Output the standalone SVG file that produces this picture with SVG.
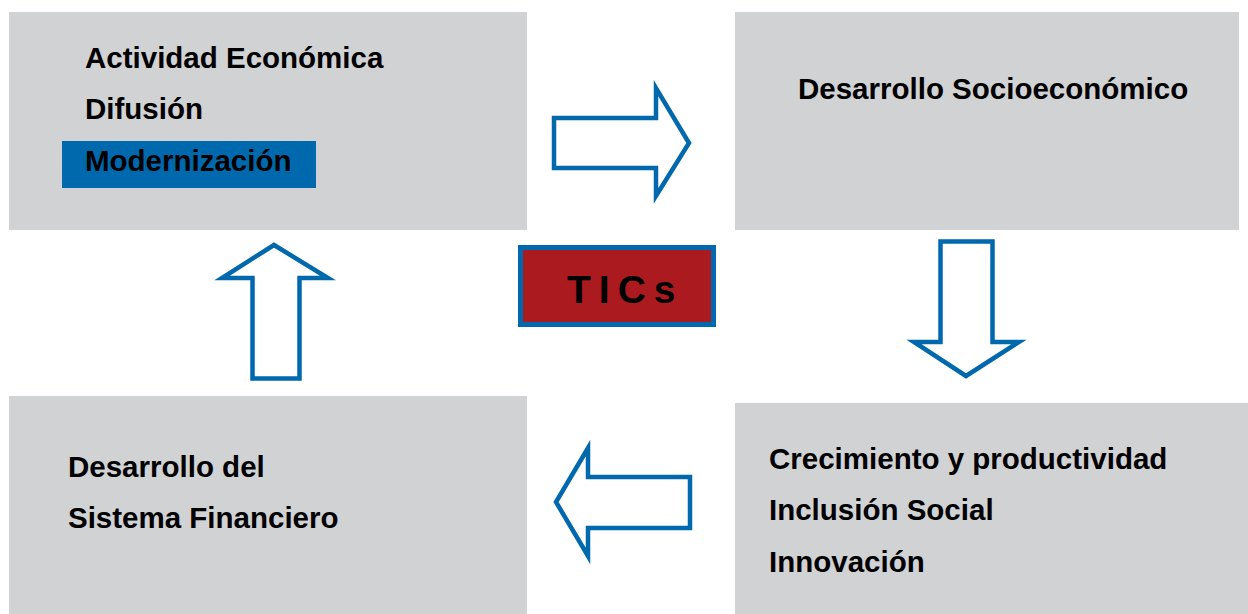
<svg xmlns="http://www.w3.org/2000/svg" width="1248" height="614" viewBox="0 0 1248 614">
<style>
.box{fill:#D1D2D4}
.t{font-family:"Liberation Sans",Arial,sans-serif;font-weight:bold;font-size:29.5px;fill:#000}
.arrow{fill:#fff;stroke:#0068AD;stroke-width:4.5;stroke-linejoin:miter}
</style>
<rect width="1248" height="614" fill="#fff"/>
<g id="node-actividad">
<rect class="box" x="9" y="12" width="518" height="218"/>
<rect x="62" y="141" width="254" height="47" fill="#0068AD"/>
<text class="t" x="85" y="68">Actividad Económica</text>
<text class="t" x="85" y="119">Difusión</text>
<text class="t" x="85" y="171">Modernización</text>
</g>
<g id="node-socio">
<rect class="box" x="735" y="12" width="504" height="218"/>
<text class="t" x="798" y="99">Desarrollo Socioeconómico</text>
</g>
<g id="node-crecimiento">
<rect class="box" x="735" y="403" width="513" height="211"/>
<text class="t" x="769" y="469">Crecimiento y productividad</text>
<text class="t" x="769" y="520">Inclusión Social</text>
<text class="t" x="769" y="572">Innovación</text>
</g>
<g id="node-financiero">
<rect class="box" x="9" y="396" width="518" height="218"/>
<text class="t" x="68" y="477">Desarrollo del</text>
<text class="t" x="68" y="528">Sistema Financiero</text>
</g>
<g id="node-tics">
<rect x="520.5" y="247.5" width="193" height="77" fill="#AA1A1F" stroke="#0068AD" stroke-width="5"/>
<text x="567" y="303" font-family="'Liberation Sans',Arial,sans-serif" font-weight="bold" font-size="39" letter-spacing="8" fill="#000">TICs</text>
</g>
<g id="connectors">
<polygon class="arrow" points="554,118 656,118 656,88 689,143 656,196 656,168 554,168"/>
<polygon class="arrow" points="940.5,241.5 992.5,241.5 992.5,342 1019,342 966,376 914,342 940.5,342"/>
<polygon class="arrow" points="690,477 588,477 588,448 556,502 588,556 588,528 690,528"/>
<polygon class="arrow" points="252.5,378.5 299.5,378.5 299.5,278 328,278 274,245 222,278 252.5,278"/>
</g>
</svg>
